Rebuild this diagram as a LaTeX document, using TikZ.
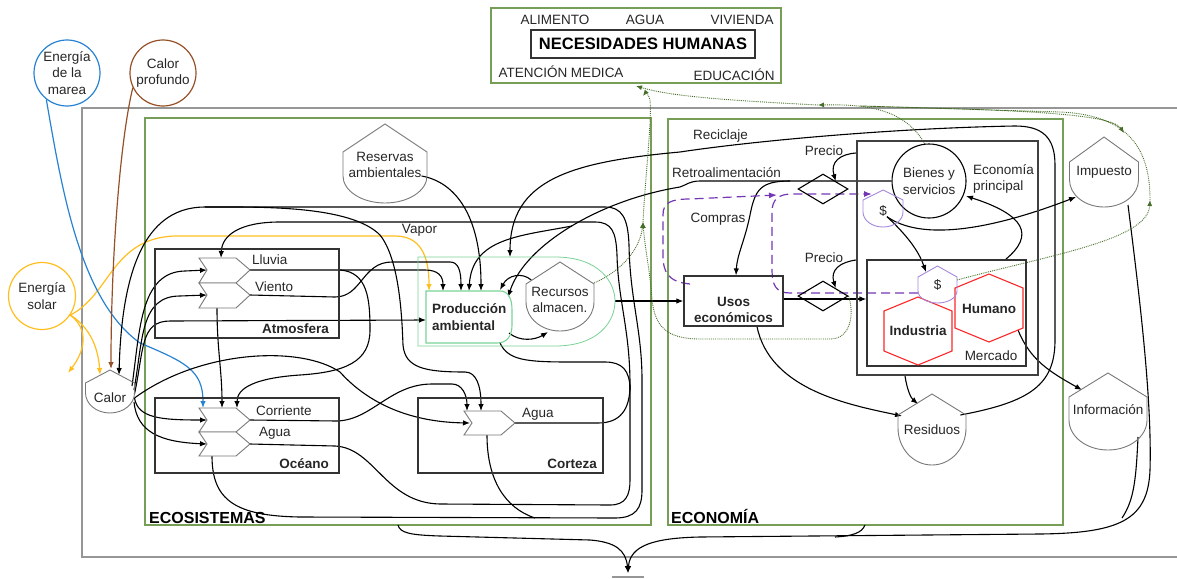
\documentclass[tikz,border=0pt]{standalone}
\usepackage{fontspec}
\setmainfont{Liberation Sans}
\usetikzlibrary{arrows.meta,shapes.geometric,calc}
\definecolor{framegreen}{RGB}{118,158,86}
\definecolor{outergray}{RGB}{150,150,150}
\definecolor{prodgreen}{RGB}{120,210,150}
\definecolor{tidal}{RGB}{40,130,210}
\definecolor{deepheat}{RGB}{150,80,40}
\definecolor{sun}{RGB}{255,190,30}
\definecolor{money}{RGB}{115,55,180}
\definecolor{moneyedge}{RGB}{165,135,220}
\definecolor{hexred}{RGB}{250,40,40}
\definecolor{infogreen}{RGB}{70,110,40}
\definecolor{tankgray}{RGB}{120,120,120}
\pgfdeclarelayer{back}
\pgfdeclarelayer{flows}
\pgfsetlayers{back,flows,main}

% storage tank: [style]{cx}{half width}{apex y}{shoulder y}{side end y}{bottom y}
\newcommand\mktank[7][]{%
  \draw[tankline,#1] (#2,#4) -- (#2+#3,#5) -- (#2+#3,#6)
    .. controls (#2+#3,{#6+0.552*(#7-#6)}) and ({#2+0.552*#3},#7) .. (#2,#7)
    .. controls ({#2-0.552*#3},#7) and (#2-#3,{#6+0.552*(#7-#6)}) .. (#2-#3,#6)
    -- (#2-#3,#5) -- cycle;}
% interaction chevron: {left x}{top y}{middle y}{bottom y}
\newcommand\mkchev[4]{%
  \draw[chevline] (#1,#2) -- (#1+37,#2) -- (#1+51,#3) -- (#1+37,#4) -- (#1,#4) -- (#1+8,#3) -- cycle;}
% pointy-top hexagon: {cx}{cy}
\newcommand\mkhex[2]{%
  \draw[hexline] (#1,#2-34) -- (#1+34,#2-20) -- (#1+34,#2+20) -- (#1,#2+34) -- (#1-34,#2+20) -- (#1-34,#2-20) -- cycle;}

\begin{document}
\begin{tikzpicture}[x=1pt,y=-1pt,
  txt/.style={font=\fontsize{13.5}{16.5}\selectfont, inner sep=0pt, text=black!85},
  btxt/.style={txt, font=\bfseries\fontsize{13.5}{16.5}\selectfont},
  heading/.style={txt, font=\bfseries\fontsize{16}{18}\selectfont, text=black},
  frameg/.style={draw=framegreen, line width=1.4pt, inner sep=0pt},
  box/.style={draw=black!80, line width=1.2pt, inner sep=0pt},
  tankline/.style={draw=tankgray, line width=0.9pt},
  chevline/.style={draw=tankgray, line width=0.9pt, fill=white},
  hexline/.style={draw=hexred, line width=1.1pt},
  prodline/.style={draw=prodgreen, line width=1.1pt},
  tip/.style={-{Latex[length=7pt,width=5.5pt]}},
  flow/.style={draw=black, line width=1.1pt, tip},
  link/.style={draw=black, line width=1.1pt},
  sunflow/.style={draw=sun, line width=1.2pt, tip},
  tideflow/.style={draw=tidal, line width=1.2pt, tip},
  heatflow/.style={draw=deepheat, line width=1.2pt, tip},
  dotflow/.style={draw=infogreen, line width=0.9pt, densely dotted, -{Latex[length=6pt,width=5pt]}},
  dotlink/.style={draw=infogreen, line width=0.9pt, densely dotted},
  cash/.style={draw=money, line width=1.2pt, dash pattern=on 9pt off 5pt, -{Latex[length=8pt,width=6pt]}},
  port/.style={inner sep=0pt, minimum size=0pt}]
\useasboundingbox (0,0) rectangle (1177,578);

% ---------- frames ----------
\begin{pgfonlayer}{back}
\draw[draw=outergray, line width=1.4pt] (1177,108) -- (82,108) -- (82,557) -- (1177,557);
\node[frameg, minimum width=506pt, minimum height=407pt] (ecosys) at (398,321.5) {};
\node[frameg, minimum width=395pt, minimum height=406pt] (econ) at (865.5,322) {};
\end{pgfonlayer}
\node[heading, anchor=base west] (ecolabel) at (149,523) {ECOSISTEMAS};
\node[heading, anchor=base west] (econlabel) at (671,523) {ECONOMÍA};

% ---------- human needs ----------
\node[frameg, minimum width=290pt, minimum height=75pt] (needs) at (636,45.5) {};
\node[box, line width=1.1pt, minimum width=224pt, minimum height=28pt,
      font=\bfseries\fontsize{16.5}{18}\selectfont] (nec) at (643,44) {NECESIDADES HUMANAS};
\node[txt] (alimento) at (555,20) {ALIMENTO};
\node[txt] (agua) at (645,20) {AGUA};
\node[txt] (vivienda) at (742,20) {VIVIENDA};
\node[txt] (atencion) at (561,72) {ATENCIÓN MEDICA};
\node[txt] (educacion) at (734,75) {EDUCACIÓN};

% ---------- sources ----------
\node[circle, draw=tidal, line width=1.2pt, minimum size=66pt, txt, align=center] (marea) at (67,73) {Energía\\de la\\marea};
\node[circle, draw=deepheat, line width=1.2pt, minimum size=66pt, txt, align=center] (profundo) at (163,73) {Calor\\profundo};
\node[circle, draw=sun, line width=1.2pt, minimum size=67pt, txt, align=center] (solar) at (42,296) {Energía\\solar};

% ---------- ecosystem compartments ----------
\node[box, minimum width=184pt, minimum height=89pt] (atm) at (247,293.5) {};
\node[btxt, anchor=base east] (atmlabel) at (329,333) {Atmosfera};
\node[box, minimum width=184pt, minimum height=75pt] (oce) at (247,435.5) {};
\node[btxt, anchor=base east] (ocelabel) at (329,468) {Océano};
\node[box, minimum width=185pt, minimum height=75pt] (cor) at (510.5,435.5) {};
\node[btxt, anchor=base east] (corlabel) at (597,468) {Corteza};

\mkchev{199}{258}{270}{283}
\mkchev{199}{283}{295}{308}
\mkchev{199}{408}{420}{432}
\mkchev{199}{432}{444}{456}
\mkchev{464}{411}{423}{435}
\node[txt, anchor=west] (lluvia) at (252,260) {Lluvia};
\node[txt, anchor=west] (viento) at (255,287) {Viento};
\node[txt, anchor=west] (corriente) at (256,411) {Corriente};
\node[txt, anchor=west] (aguao) at (259,433) {Agua};
\node[txt, anchor=west] (aguac) at (522,414) {Agua};
\node[txt] (vapor) at (419.5,230) {Vapor};

\mktank{110}{24.5}{370}{383}{393}{413}
\node[txt] (calor) at (110,398) {Calor};
\mktank{385}{42}{124}{152}{176}{203}
\node[txt, align=center] (reservas) at (385,165) {Reservas\\ambientales};
\draw[prodline, line width=0.8pt] (418,257) -- (555,257) .. controls (600,257) and (615,283) .. (615,301)
   .. controls (615,322) and (598,346) .. (555,346) -- (418,346) -- cycle;
\draw[prodline] (426,291) -- (500,291) .. controls (508,291) and (512,298) .. (512,310) -- (512,325)
   .. controls (512,336) and (507,343) .. (497,343) -- (426,343) -- cycle;
\node[btxt, align=left, anchor=west] (prod) at (432,317) {Producción\\ambiental};
\mktank{560}{34}{262}{284}{302}{331}
\node[txt, align=center] (recursos) at (560,300) {Recursos\\almacen.};

% ---------- economy ----------
\node[box, minimum width=99pt, minimum height=50pt] (usos) at (733.5,301) {};
\node[btxt, align=center] (usostext) at (733.5,310) {Usos\\económicos};
\node[draw=black!75, line width=1.5pt, minimum width=181pt, minimum height=234pt, inner sep=0pt] (econp) at (947.5,258) {};
\node[txt, align=left, anchor=north west] (eplabel) at (973,164) {Economía\\principal};
\node[box, minimum width=159pt, minimum height=106pt] (merc) at (946.5,313) {};
\node[txt] (mercado) at (991,356) {Mercado};
\node[circle, draw=black, line width=1.1pt, minimum size=74pt, txt, align=center] (bienes) at (929,181) {Bienes y\\servicios};
\node[diamond, draw=black, line width=1.1pt, minimum width=50pt, minimum height=30pt, inner sep=0pt] (price1) at (823,189) {};
\node[diamond, draw=black, line width=1.1pt, minimum width=50pt, minimum height=30pt, inner sep=0pt] (price2) at (823,296) {};
\node[txt] (precio1) at (824,151) {Precio};
\node[txt] (precio2) at (824,258) {Precio};
\mkhex{989}{308}
\node[btxt] (humano) at (989,309) {Humano};
\mkhex{918}{331}
\node[btxt] (industria) at (918,331) {Industria};
\mktank[draw=moneyedge]{883}{20}{190}{200}{212}{227}
\node[txt] (pay) at (883,211) {\$};
\mktank[draw=moneyedge]{937.5}{19.5}{266}{277}{291}{303}
\node[txt] (wage) at (937.5,285) {\$};
\mktank{932}{34}{394}{415}{428}{465}
\node[txt] (residuos) at (932,430) {Residuos};
\mktank{1104}{34.5}{137}{162}{180}{207}
\node[txt] (impuesto) at (1104,172) {Impuesto};
\mktank{1108}{39}{373}{397}{420}{450}
\node[txt] (informacion) at (1108,410) {Información};
\node[txt] (reciclaje) at (720.5,136) {Reciclaje};
\node[txt] (retro) at (726.5,173) {Retroalimentación};
\node[txt] (compras) at (718,219) {Compras};

% ports
\coordinate (lluvia-in) at (207,270);  \coordinate (lluvia-out) at (250,270); \coordinate (lluvia-top) at (221,258);
\coordinate (viento-in) at (207,295);  \coordinate (viento-out) at (250,295); \coordinate (viento-bot) at (217,308);
\coordinate (corr-in) at (207,420);    \coordinate (corr-out) at (250,420);
\coordinate (corr-top0) at (203,408);  \coordinate (corr-top1) at (222,408);  \coordinate (corr-top2) at (237,408);
\coordinate (aguao-in) at (207,444);   \coordinate (aguao-out) at (250,444);  \coordinate (aguao-bot) at (212,456);
\coordinate (aguac-in) at (470,423);   \coordinate (aguac-out) at (513,423);  \coordinate (aguac-bot) at (487,435);
\coordinate (aguac-top1) at (467,411); \coordinate (aguac-top2) at (481,411);
\coordinate (prod-sun) at (429,291);   \coordinate (prod-t1) at (443,291); \coordinate (prod-t2) at (461,291);
\coordinate (prod-t3) at (469,291);    \coordinate (prod-t4) at (481,291); \coordinate (prod-t5) at (500,290);
\coordinate (prod-left) at (426,320);  \coordinate (prod-right) at (508,297);
\coordinate (prod-bot) at (500,343);   \coordinate (prod-br) at (509,333);
\coordinate (grp-east) at (615,301);   \coordinate (grp-top) at (510,257);
\coordinate (calor-roof) at (119,375); \coordinate (calor-sunl) at (100,375);
\coordinate (calor-r1) at (132,386);   \coordinate (calor-r2) at (134,390);  \coordinate (calor-r3) at (134.5,394);
\coordinate (calor-r4) at (134.5,398); \coordinate (calor-r5) at (134,402);
\coordinate (sink) at (628,573);

\begin{pgfonlayer}{flows}
% sun
\draw[sunflow] (solar.-34) .. controls (110,295) and (112,238) .. (175,236) -- (395,236)
   .. controls (420,236) and (429,255) .. (prod-sun);
\draw[sunflow] (solar.-34) .. controls (88,326) and (98,345) .. (calor-sunl);
\draw[sunflow] (solar.-34) .. controls (90,330) and (84,352) .. (68,373);
% tide and deep heat
\draw[tideflow] (marea.232) .. controls (62,190) and (80,300) .. (140,343)
   .. controls (185,362) and (203,370) .. (corr-top0);
\draw[heatflow] (profundo.206) .. controls (120,140) and (111,260) .. (111,369);

% water cycle loops
\draw[flow] (aguao-bot) .. controls (212,500) and (235,516) .. (300,517) -- (615,518)
   .. controls (636,518) and (642,508) .. (642,490) -- (642,380)
   .. controls (642,330) and (630,300) .. (629,245)
   .. controls (628,218) and (622,207) .. (605,207) -- (205,207)
   .. controls (150,207) and (122,260) .. (calor-roof);
\draw[link] (aguac-bot) .. controls (487,480) and (505,508) .. (535,518);
\draw[flow] (aguao-out) -- (335,446) .. controls (375,448) and (385,503) .. (440,504) -- (610,505)
   .. controls (626,505) and (630,495) .. (630,480) -- (630,385)
   .. controls (630,330) and (618,300) .. (617,255)
   .. controls (616,232) and (612,222) .. (595,222) -- (280,222)
   .. controls (240,222) and (222,235) .. (lluvia-top);
\draw[link] (prod-bot) .. controls (508,360) and (525,362) .. (570,362) -- (605,362)
   .. controls (622,362) and (630,370) .. (630,390);
\draw[link] (aguac-out) -- (598,423) .. controls (620,423) and (630,410) .. (630,385);

% inputs to production and to the compartments
\draw[flow] (reservas.east |- 0,176) .. controls (455,182) and (481,215) .. (prod-t4);
\draw[flow] (lluvia-out) -- (425,270) .. controls (438,270) and (443,276) .. (prod-t1);
\draw[flow] (viento-out) -- (335,297) .. controls (362,297) and (362,262) .. (392,262) -- (450,262)
   .. controls (458,262) and (461,270) .. (prod-t2);
\draw[flow] (calor-r3) .. controls (144,350) and (140,321) .. (170,321) -- (prod-left);
\draw[flow] (calor-r1) .. controls (140,330) and (140,272) .. (185,271) -- (lluvia-in);
\draw[flow] (calor-r2) .. controls (143,340) and (140,296) .. (180,296) -- (viento-in);
\draw[flow] (calor-r4) .. controls (138,418) and (160,420) .. (corr-in);
\draw[flow] (calor-r5) .. controls (137,432) and (160,442) .. (aguao-in);
\draw[flow] (calor-r4) .. controls (200,350) and (300,345) .. (340,372)
   .. controls (365,400) and (405,422) .. (aguac-in);
\draw[flow] (corr-out) -- (337,421) .. controls (372,420) and (390,384) .. (432,384) -- (452,384)
   .. controls (462,384) and (467,395) .. (aguac-top1);
\draw[flow] (340,270) .. controls (368,272) and (370,300) .. (370,330)
   .. controls (370,362) and (345,372) .. (300,375) .. controls (255,378) and (237,388) .. (corr-top2);
\draw[flow] (205,207) .. controls (260,207) and (350,205) .. (380,235)
   .. controls (400,260) and (402,320) .. (403,345) .. controls (405,368) and (425,372) .. (465,372)
   .. controls (476,372) and (481,385) .. (aguac-top2);
\draw[flow] (viento-bot) .. controls (217,350) and (222,370) .. (corr-top1);
\draw[flow] (recursos.west |- 0,280) .. controls (522,272) and (508,275) .. (prod-t5);
\draw[flow] (prod-br) .. controls (520,342) and (535,340) .. (548,332);

% economy flows
\draw[flow] (grp-east) -- (usos.west |- grp-east);
\draw[flow] (usos.east |- 0,299) -- (merc.west |- 0,299);
\coordinate (retro-split) at (790,181);
\coordinate (retro-fork) at (572,226);
\draw[flow] (bienes.west) -- (retro-split) -- (700,181) .. controls (690,181) and (686,185) .. (680,187)
   .. controls (600,200) and (525,245) .. (prod-right);
\draw[flow] (retro-fork) .. controls (520,236) and (472,238) .. (prod-t3);
\draw[flow] (retro-split) .. controls (760,181) and (755,190) .. (750,215)
   .. controls (745,240) and (737,255) .. (usos.north -| 736,0);
\draw[flow] (econp.west |- 0,153) .. controls (840,154) and (830,162) .. (price1.north east);
\draw[flow] (econp.west |- 0,260) .. controls (840,262) and (830,270) .. (price2.north east);
\draw[flow] (pay.south east) .. controls (912,240) and (920,255) .. (926,272);
\draw[flow] (pay.south east) .. controls (920,240) and (985,232) .. (impuesto.west |- 0,197);
\draw[flow] (merc.north east) ++(-21,0) .. controls (1035,235) and (1025,215) .. (966,196);
\draw[flow] (1018,330) .. controls (1030,360) and (1050,372) .. (1082,390);
\draw[flow] (econp.south -| 905,0) .. controls (907,390) and (911,398) .. (918,404);
\draw[flow] (usos.south -| 757,0) .. controls (770,390) and (850,405) .. (902,416);
% recycling back to the stored resources
\draw[flow] (residuos.east |- 0,415) .. controls (1030,402) and (1055,385) .. (1055,340) -- (1055,165)
   .. controls (1055,137) and (1042,126) .. (1015,126) .. controls (900,128) and (760,140) .. (680,152)
   .. controls (570,162) and (510,180) .. (grp-top);
% dissipation to the heat sink
\draw[flow] (1128,205) .. controls (1140,300) and (1152,400) .. (1150,470)
   .. controls (1148,520) and (1120,533) .. (1040,534) -- (700,537)
   .. controls (655,538) and (630,545) .. (sink);
\draw[link] (1138,437) .. controls (1136,480) and (1134,500) .. (1122,518);
\draw[link] (865,525) .. controls (862,533) and (852,536) .. (835,537);
\draw[flow] (398,525) .. controls (400,533) and (410,535) .. (440,536) -- (590,540)
   .. controls (615,542) and (626,550) .. (sink);
\draw[draw=outergray, line width=1.3pt] (612,577) -- (644,577);

% information (dotted)
\draw[dotflow] (594,283) .. controls (620,272) and (640,250) .. (643,222);
\draw[dotflow] (price2.east) .. controls (854,312) and (852,339) .. (830,339) -- (700,339)
   .. controls (665,339) and (655,325) .. (652,300) .. controls (650,270) and (645,250) .. (643,222);
\draw[dotflow] (643,222) .. controls (645,180) and (652,120) .. (650,100) .. controls (649,96) and (646,92) .. (643,96);
\draw[dotflow] (925,144) .. controls (905,110) and (870,104) .. (818,105);
\draw[dotflow] (818,105) .. controls (720,100) and (670,96) .. (636,86);
\draw[dotflow] (957,280) .. controls (1050,255) and (1148,240) .. (1150,200);
\draw[dotflow] (1150,200) .. controls (1150,150) and (1130,115) .. (1060,112) -- (860,106) .. controls (1000,110) and (1110,112) .. (1124,133);

% money (dashed)
\draw[cash] (918,293) -- (790,293) .. controls (776,293) and (772,285) .. (772,270) -- (772,212)
   .. controls (772,200) and (778,194) .. (792,194) -- (872,194);
\draw[cash] (690,284) .. controls (668,282) and (663,272) .. (663,255) -- (663,215)
   .. controls (663,203) and (670,199) .. (690,199) -- (777,195);
\end{pgfonlayer}
\end{tikzpicture}
\end{document}
